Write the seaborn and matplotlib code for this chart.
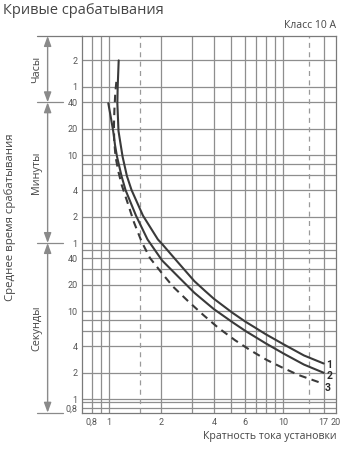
import matplotlib
matplotlib.use("Agg")
import matplotlib.pyplot as plt
import matplotlib.transforms as mtransforms
from matplotlib.ticker import FixedLocator, FixedFormatter, NullLocator
import pandas as pd
import seaborn as sns

# Tripping curves of a class 10 A relay:
# multiple of the set current (x) vs mean tripping time in seconds (t)
curve1_x = [1.14, 1.125, 1.12, 1.137, 1.20, 1.27, 1.35, 1.57, 1.91, 2.02, 2.51, 3.09,
            3.57, 4.0, 5.12, 6.08, 6.87, 7.91, 10.1, 13.1, 17.0]
curve1_t = [7200, 3610, 2340, 1130, 577, 348, 241, 123, 66, 58.5, 35.5, 22.1,
            17.0, 13.9, 9.6, 7.6, 6.55, 5.5, 4.18, 3.15, 2.55]

curve2_x = [0.994, 1.027, 1.06, 1.086, 1.115, 1.183, 1.247, 1.432, 1.666, 2.02, 2.51,
            3.09, 3.57, 4.0, 5.12, 6.08, 6.87, 7.91, 10.1, 13.1, 17.0]
curve2_t = [2340, 1630, 1130, 784, 577, 348, 241, 123, 66, 38, 24.6,
            16.3, 12.8, 10.6, 7.5, 5.96, 5.14, 4.33, 3.28, 2.48, 2.0]

curve3_x = [1.105, 1.09, 1.077, 1.071, 1.074, 1.093, 1.137, 1.186, 1.294, 1.395, 1.543,
            1.722, 2.009, 2.341, 2.842, 3.477, 4.236, 5.28, 6.435, 8.02, 9.77, 12.16, 16.6]
curve3_t = [4100, 3060, 1960, 1320, 894, 577, 386, 275, 163, 103, 62,
            40.5, 27.4, 19.0, 13.1, 9.1, 6.5, 4.7, 3.63, 2.8, 2.31, 1.89, 1.52]

curve_names = ["1", "2", "3"]

# axis ranges
x_range = (0.7, 20)
t_range = (0.702, 13650)

# grid of the chart paper
y_grid = [7200, 3600, 2400, 1200, 600, 480, 360, 240, 120, 60, 50, 40, 30, 20,
          10, 8, 6, 4, 2, 1, 0.93, 0.8]
x_grid = [0.8, 0.9, 1, 2, 3, 4, 5, 6, 7, 8, 9, 10, 17]
x_grid_dashed = [1.5, 14]

y_ticks = [7200, 3600, 2400, 1200, 600, 240, 120, 60, 40, 20, 10, 4, 2, 1, 0.8]
y_tick_labels = ["2", "1", "40", "20", "10", "4", "2", "1", "40", "20", "10", "4", "2", "1", "0,8"]
x_ticks = [0.8, 1, 2, 4, 6, 10, 17, 20]
x_tick_labels = ["0,8", "1", "2", "4", "6", "10", "17", "20"]

# unit bands on the left: hours, minutes, seconds (bounds in seconds)
band_names = ["Часы", "Минуты", "Секунды"]
band_bounds = [t_range[1], 2400, 60, t_range[0]]

sns.set_style("white")
plt.rcParams["font.family"] = ["Open Sans", "DejaVu Sans"]

GRID = "#8e8e8e"
INK = "#3a3a3a"
TEXT = "#454545"

W, H = 350, 449
fig = plt.figure(figsize=(W / 100, H / 100), dpi=100)
ax = fig.add_axes([81.7 / W, 1 - 412.7 / H, 254.3 / W, 376.7 / H])
ax.set_xscale("log")
ax.set_yscale("log")
ax.set_xlim(*x_range)
ax.set_ylim(*t_range)

for v in y_grid:
    ax.axhline(v, color=GRID, lw=0.9, zorder=1)
for v in x_grid:
    ax.axvline(v, color=GRID, lw=0.9, zorder=1)
for v in x_grid_dashed:
    ax.axvline(v, color="#9a9a9a", lw=0.9, ls=(0, (4, 3.5)), zorder=1)

frames = []
for name, xs, ts in zip(curve_names, [curve1_x, curve2_x, curve3_x],
                        [curve1_t, curve2_t, curve3_t]):
    frames.append(pd.DataFrame({"x": xs, "t": ts, "curve": name}))
df = pd.concat(frames, ignore_index=True)

styles = {"1": "-", "2": "-", "3": (0, (3.6, 2.6))}
for name in curve_names:
    sub = df[df["curve"] == name]
    sns.lineplot(data=sub, x="x", y="t", sort=False, estimator=None, ax=ax,
                 color=INK, lw=1.5, ls=styles[name], zorder=3, legend=False)

# curve numbers at the right-hand ends
offsets = {"1": (4, -1), "2": (4, -2.4), "3": (4.5, -3.4)}
for name in curve_names:
    sub = df[df["curve"] == name]
    ax.annotate(name, xy=(sub["x"].iloc[-1], sub["t"].iloc[-1]), xytext=offsets[name],
                textcoords="offset points", ha="center", va="center",
                fontsize=7.5, color="#2a2a2a", fontweight="bold",
                family=["Roboto", "DejaVu Sans"], annotation_clip=False)

ax.xaxis.set_major_locator(FixedLocator(x_ticks))
ax.xaxis.set_major_formatter(FixedFormatter(x_tick_labels))
ax.yaxis.set_major_locator(FixedLocator(y_ticks))
ax.yaxis.set_major_formatter(FixedFormatter(y_tick_labels))
ax.xaxis.set_minor_locator(NullLocator())
ax.yaxis.set_minor_locator(NullLocator())
ax.tick_params(length=0, labelsize=6.5, labelcolor="#555555")
ax.tick_params(axis="y", pad=3)
ax.tick_params(axis="x", pad=3.5)
for lab in ax.get_xticklabels() + ax.get_yticklabels():
    lab.set_family(["Roboto", "DejaVu Sans"])
ax.set_xlabel("")
ax.set_ylabel("")
for sp in ax.spines.values():
    sp.set_color("#7a7a7a")
    sp.set_linewidth(0.9)
    sp.set_visible(True)

# unit bands with double arrows left of the axis
trans = mtransforms.blended_transform_factory(ax.transAxes, ax.transData)
x_line0, x_line1 = -0.177, -0.075
x_arrow = -0.134
x_band_text = -0.176
ax.plot([x_line0, 0], [band_bounds[0]] * 2, color="#7a7a7a", lw=0.9,
        transform=trans, clip_on=False)
for b in band_bounds[1:]:
    ax.plot([x_line0, x_line1], [b, b], color="#8a8a8a", lw=0.9,
            transform=trans, clip_on=False)
for i, name in enumerate(band_names):
    top, bot = band_bounds[i], band_bounds[i + 1]
    ax.annotate("", xy=(x_arrow, bot), xytext=(x_arrow, top),
                xycoords=trans, textcoords=trans,
                arrowprops=dict(arrowstyle="<|-|>,head_length=0.6,head_width=0.22",
                                color="#8a8a8a", lw=1.0, shrinkA=0, shrinkB=0))
    ax.text(x_band_text, (top * bot) ** 0.5, name, rotation=90, transform=trans,
            ha="center", va="center", fontsize=7.8, color=TEXT)

fig.text(3 / W, 1 - 10 / H, "Кривые срабатывания", ha="left", va="center",
         fontsize=10.5, color=TEXT)
fig.text(336.5 / W, 1 - 25.5 / H, "Класс 10 А", ha="right", va="center",
         fontsize=7.5, color=TEXT)
fig.text(336.5 / W, 1 - 436 / H, "Кратность тока установки", ha="right", va="center",
         fontsize=7.6, color=TEXT)
fig.text(10 / W, 1 - 217 / H, "Среднее время срабатывания", rotation=90,
         ha="center", va="center", fontsize=8.2, color=TEXT)

fig.savefig("out.png", dpi=100, facecolor="white")
